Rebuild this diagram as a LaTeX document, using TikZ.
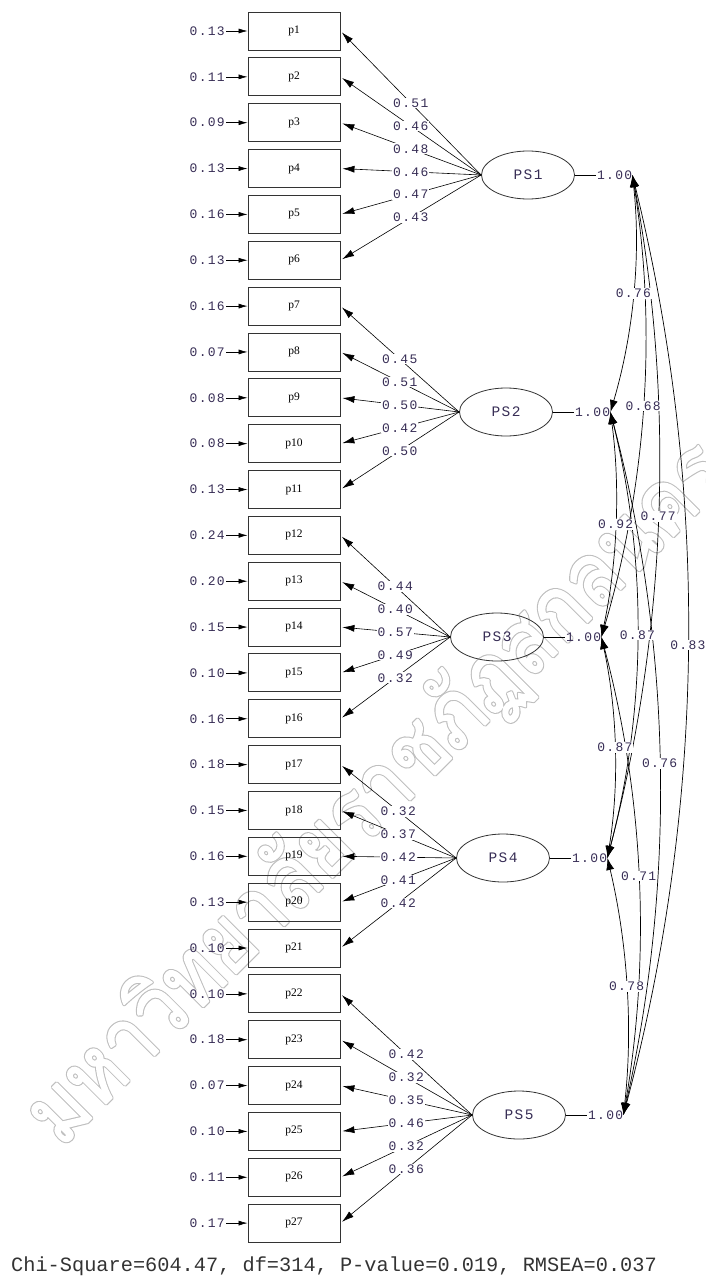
\documentclass[tikz,border=0pt]{standalone}
\usepackage{fontspec}
\usepackage{graphicx}
\usetikzlibrary{arrows.meta,calc,positioning,shapes.geometric}
\newfontfamily\numfont[LetterSpace=10]{Liberation Mono}
\newfontfamily\monofont{Liberation Mono}
\newfontfamily\serfont{Liberation Serif}
\newfontfamily\thaifont[Script=Thai]{Loma}
\definecolor{numcol}{RGB}{55,45,85}
\newcommand\wmtxt{\thaifont\fontsize{100}{100}\selectfont มหาวิทยาลัยราชภัฏสกลนคร}
\newcommand\wmark[1]{\scalebox{1}[1.15]{\resizebox{950pt}{!}{\special{pdf:literal direct #1}\wmtxt\special{pdf:literal direct 0 Tr}}}}
\begin{document}
\begin{tikzpicture}[x=1pt,y=-1pt,
  obs/.style={draw=black!80, line width=0.9pt, minimum width=92pt, minimum height=38pt, inner sep=0pt, font=\serfont\fontsize{11.5}{12}\selectfont},
  lat/.style={draw=black!80, line width=0.8pt, ellipse, minimum width=93pt, minimum height=48pt, inner sep=0pt, font=\numfont\fontsize{14.5}{15}\selectfont, text=numcol},
  lab/.style={font=\numfont\fontsize{13}{13}\selectfont, text=numcol, inner sep=1pt},
  wlab/.style={lab, fill=white},
  load/.style={line width=0.6pt, -{Latex[length=12pt,width=7pt]}, shorten >=2pt},
  err/.style={line width=0.6pt, -{Latex[length=9pt,width=5pt]}},
  corr/.style={line width=0.7pt, {Latex[length=12pt,width=8pt]}-{Latex[length=12pt,width=8pt]}},
  wm/.style={rotate=45, inner sep=0pt},
]
\path[use as bounding box] (0,0) rectangle (706,1279);
% watermark: grey outline with white body
\coordinate (wmc) at (378,794);
\node[wm, text=gray!50] (wmout) at (wmc) {\wmark{1 Tr 4.2 w 1 j}};
\node[wm, text=white] (wmtext) at (wmc) {\wmark{2 Tr 1.6 w 1 j}};
% observed variables and errors
\foreach \i/\e in {1/0.13,2/0.11,3/0.09,4/0.13,5/0.16,6/0.13,7/0.16,8/0.07,9/0.08,10/0.08,11/0.13,12/0.24,13/0.20,14/0.15,15/0.10,16/0.16,17/0.18,18/0.15,19/0.16,20/0.13,21/0.10,22/0.10,23/0.18,24/0.07,25/0.10,26/0.11,27/0.17} {
  \node[obs] (p\i) at (294,{31+(\i-1)*45.85}) {p\i};
  \node[lab, anchor=east] (e\i) at (226,{31+(\i-1)*45.85}) {\e};
  \draw[err] (e\i) -- (p\i);
}
% latent variables
\node[lat] (PS1) at (528,175) {PS1};
\node[lat] (PS2) at (506,412) {PS2};
\node[lat] (PS3) at (497,637) {PS3};
\node[lat] (PS4) at (503,858) {PS4};
\node[lat] (PS5) at (519,1115) {PS5};
\foreach \k in {1,...,5} {
  \node[lab, right=21pt of PS\k] (v\k) {1.00};
  \draw[line width=0.7pt] (PS\k) -- (v\k);
  \coordinate (c\k) at ([xshift=-1pt]v\k.east);
}
% loadings
\foreach \k/\i in {1/1,1/2,1/3,1/4,1/5,1/6,2/7,2/8,2/9,2/10,2/11,3/12,3/13,3/14,3/15,3/16,4/17,4/18,4/19,4/20,4/21,5/22,5/23,5/24,5/25,5/26,5/27}
  \draw[load] (PS\k.west) -- coordinate[pos=0.5] (L\i) (p\i.east);
% correlations
\foreach \a/\b/\e in {1/2/16,1/3/35,1/4/51,1/5/80,2/3/13,2/4/38,2/5/57,3/4/14,3/5/35,4/5/15}
  \draw[corr] (c\a) .. controls ($(c\a)!0.333!(c\b)+(\e,0)$) and ($(c\a)!0.667!(c\b)+(\e,0)$) .. coordinate[pos=0.5] (k\a\b) (c\b);
% loading labels
\foreach \i/\v in {1/0.51,2/0.46,3/0.48,4/0.46,5/0.47,6/0.43,7/0.45,8/0.51,9/0.50,10/0.42,11/0.50,12/0.44,13/0.40,14/0.57,15/0.49,16/0.32,17/0.32,18/0.37,19/0.42,20/0.41,21/0.42,22/0.42,23/0.32,24/0.35,25/0.46,26/0.32,27/0.36}
  \node[wlab] (ll\i) at (L\i) {\v};
% correlation labels
\foreach \a/\b/\v in {1/2/0.76,1/3/0.68,1/4/0.77,1/5/0.83,2/3/0.92,2/4/0.87,2/5/0.76,3/4/0.87,3/5/0.71,4/5/0.78}
  \node[wlab] (kl\a\b) at (k\a\b) {\v};
% fit statistics
\node[font=\monofont\fontsize{20.3}{21}\selectfont, text=black!80, anchor=base west, inner sep=0pt] (fit) at (11,1271) {Chi-Square=604.47, df=314, P-value=0.019, RMSEA=0.037};
\end{tikzpicture}
\end{document}
